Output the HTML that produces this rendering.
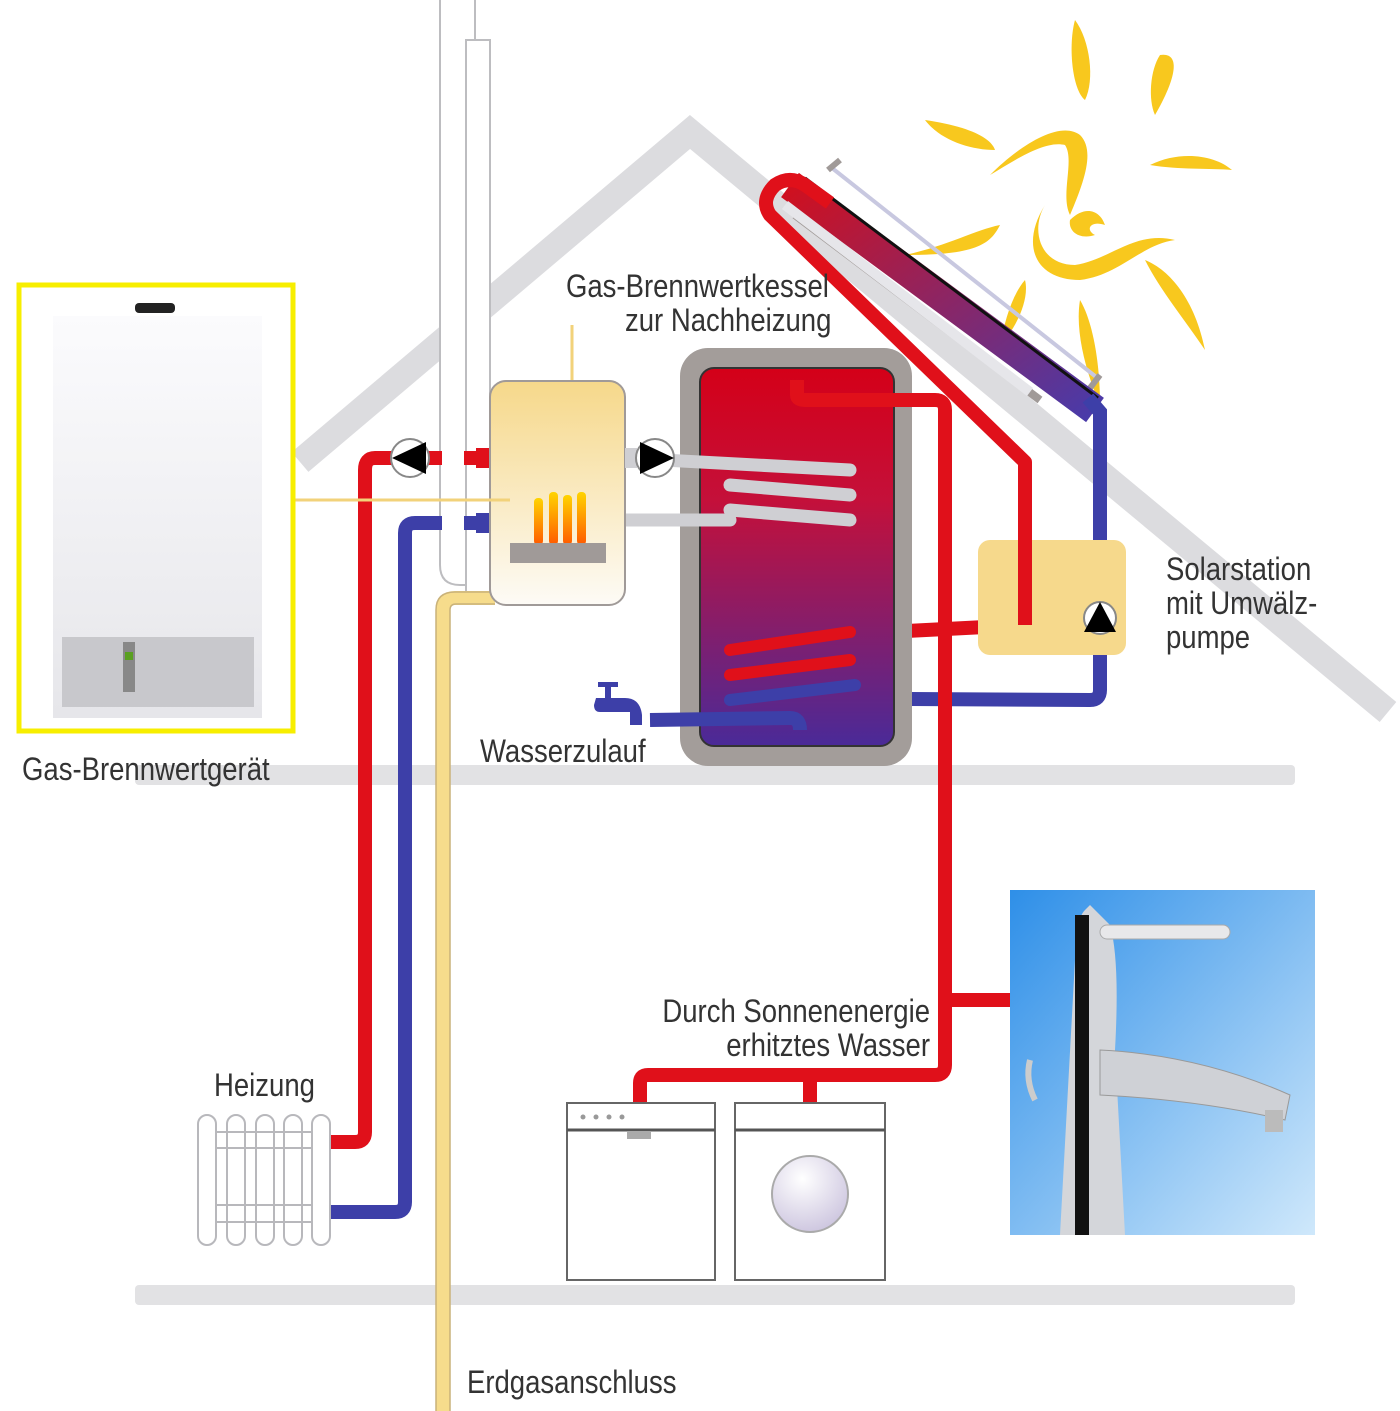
<!DOCTYPE html>
<html><head><meta charset="utf-8"><style>
html,body{margin:0;padding:0;background:#fff;}
svg{display:block;}
text{font-family:"Liberation Sans",sans-serif;fill:#333;}
</style></head><body>
<svg width="1400" height="1411" viewBox="0 0 1400 1411" xmlns="http://www.w3.org/2000/svg">
<defs>
<linearGradient id="tank" x1="0" y1="0" x2="0" y2="1">
<stop offset="0" stop-color="#d40018"/><stop offset="0.35" stop-color="#c4103a"/><stop offset="1" stop-color="#4a2a98"/></linearGradient>
<linearGradient id="boil" x1="0" y1="0" x2="0" y2="1">
<stop offset="0" stop-color="#f6d88a"/><stop offset="1" stop-color="#fdfbf6"/></linearGradient>
<linearGradient id="flame" x1="0" y1="0" x2="0" y2="1">
<stop offset="0" stop-color="#ffd400"/><stop offset="1" stop-color="#ff5a00"/></linearGradient>
<linearGradient id="sky" x1="0" y1="0" x2="1" y2="1">
<stop offset="0" stop-color="#2e8fe8"/><stop offset="1" stop-color="#cfe8fb"/></linearGradient>
<linearGradient id="col" x1="0" y1="0" x2="1" y2="1">
<stop offset="0" stop-color="#d0101e"/><stop offset="1" stop-color="#4a3aa8"/></linearGradient>
<linearGradient id="dev" x1="0" y1="0" x2="0" y2="1">
<stop offset="0" stop-color="#fbfbfd"/><stop offset="1" stop-color="#e6e6ea"/></linearGradient>
<radialGradient id="door" cx="0.4" cy="0.3" r="0.8">
<stop offset="0" stop-color="#ffffff"/><stop offset="1" stop-color="#c8c0dc"/></radialGradient>
</defs>

<polyline points="300,462 690,132 1388,712" fill="none" stroke="#dcdcdf" stroke-width="26"/>
<rect x="135" y="765" width="1160" height="20" fill="#e2e2e4" rx="4"/>
<rect x="135" y="1285" width="1160" height="20" fill="#e2e2e4" rx="4"/>

<g fill="#f8c81e">
<path d="M1075 20 C1090 40 1095 80 1085 100 C1072 90 1068 45 1075 20Z"/>
<path d="M1160 55 C1180 52 1178 75 1155 115 C1148 100 1150 70 1160 55Z"/>
<path d="M1150 165 C1180 150 1215 155 1232 170 C1210 168 1180 170 1150 165Z"/>
<path d="M925 120 C960 125 990 135 995 150 C970 150 940 140 925 120Z"/>
<path d="M1000 225 C990 245 975 255 905 255 C950 245 975 230 1000 225Z"/>
<path d="M1145 260 C1170 270 1195 300 1205 350 C1185 320 1160 290 1145 260Z"/>
<path d="M1080 300 C1092 320 1100 360 1100 405 C1085 370 1075 330 1080 300Z"/>
<path d="M1025 280 C1030 300 1015 330 1000 345 C1005 320 1012 295 1025 280Z"/>
<path d="M990 175 C1020 145 1060 120 1080 135 C1095 150 1085 180 1070 215 C1060 195 1075 160 1065 145 C1045 140 1015 160 990 175Z"/>
<path d="M1045 205 C1030 230 1040 265 1075 265 C1110 260 1135 230 1175 240 C1140 245 1120 275 1080 280 C1035 280 1020 245 1045 205Z"/>
<path d="M1070 220 C1085 205 1100 210 1105 225 C1090 220 1085 230 1095 235 C1080 240 1068 232 1070 220Z"/>
</g>

<path d="M440 0 V565 Q440 585 460 585 H490 V40 H475 V0" fill="#fff" stroke="#bdbdc0" stroke-width="2"/>
<rect x="466" y="40" width="24" height="560" fill="#fff" stroke="#bdbdc0" stroke-width="2"/>

<path d="M832 168 L1100 380" stroke="#c8c8e0" stroke-width="4" fill="none"/>
<path d="M828 170 L840 160 M1090 388 L1100 375" stroke="#a09a98" stroke-width="6"/>
<path d="M790 185 L1095 410" stroke="url(#col)" stroke-width="30" fill="none"/>
<path d="M805 178 L1098 398" stroke="#111" stroke-width="3" fill="none"/>
<path d="M795 215 L1040 400" stroke="#a09a98" stroke-width="8" fill="none"/>
<path d="M785 205 L1030 392" stroke="#e6e6ea" stroke-width="10" fill="none"/>

<path d="M730 640 L1025 625 V462 L770 215 Q760 200 775 185 Q790 175 805 185 L830 203" fill="none" stroke="#e0101a" stroke-width="14" stroke-linejoin="round"/>
<path d="M1088 398 L1100 412 V690 Q1100 700 1090 700 L720 698" fill="none" stroke="#3d3fa8" stroke-width="14"/>

<rect x="978" y="540" width="148" height="115" rx="12" fill="#f6d98c"/>
<path d="M1025 540 V625" stroke="#e0101a" stroke-width="14"/>
<circle cx="1100" cy="618" r="16" fill="#fff" stroke="#888" stroke-width="2"/>
<polygon points="1084,632 1100,602 1116,632" fill="#000"/>

<rect x="680" y="348" width="232" height="418" rx="28" fill="#a39d9a"/>
<rect x="700" y="368" width="194" height="378" rx="14" fill="url(#tank)" stroke="#333" stroke-width="2"/>
<path d="M797 380 V395 Q797 400 805 400 H935 Q945 400 945 410 V1065 Q945 1075 935 1075 H648 Q640 1075 640 1083 V1105" fill="none" stroke="#e0101a" stroke-width="14"/>
<path d="M810 1075 V1105" stroke="#e0101a" stroke-width="14"/>
<path d="M945 1000 H1012" stroke="#e0101a" stroke-width="14"/>
<path d="M730 650 L850 632 M730 675 L850 660" stroke="#e0101a" stroke-width="12" stroke-linecap="round"/>
<path d="M730 700 L855 685" stroke="#3d3fa8" stroke-width="12" stroke-linecap="round"/>
<path d="M650 720 L790 718 Q800 718 800 730" fill="none" stroke="#3d3fa8" stroke-width="14"/>
<g stroke="#cfcfd3" stroke-width="13" stroke-linecap="round" fill="none">
<path d="M625 458 L850 470"/><path d="M730 485 L850 495"/><path d="M730 510 L850 520"/>
<path d="M625 520 L730 520"/>
</g>

<g fill="#3d3fa8">
<rect x="598" y="682" width="20" height="5"/><rect x="605" y="684" width="6" height="14"/>
<path d="M596 698 H625 Q640 698 642 715 V725 H630 V712 H600 Q594 712 594 705Z"/>
</g>

<path d="M490 458 H375 Q365 458 365 470 V1132 Q365 1142 355 1142 H330" fill="none" stroke="#e0101a" stroke-width="14"/>
<path d="M490 523 H415 Q405 523 405 533 V1202 Q405 1212 395 1212 H330" fill="none" stroke="#3d3fa8" stroke-width="14"/>
<rect x="442" y="440" width="22" height="100" fill="#fff"/>
<rect x="476" y="448" width="14" height="20" fill="#e0101a"/>
<rect x="476" y="513" width="14" height="20" fill="#3d3fa8"/>
<path d="M443 1411 V610 Q443 598 455 598 H495" fill="none" stroke="#f6dc8c" stroke-width="14"/>
<path d="M436 1411 V610 Q436 592 455 592 H495 M450 1411 V610 Q450 604 456 604 H495" fill="none" stroke="#c9b27a" stroke-width="1.5"/>

<line x1="572" y1="325" x2="572" y2="382" stroke="#f2d27a" stroke-width="3"/>
<rect x="490" y="381" width="135" height="224" rx="16" fill="url(#boil)" stroke="#a09a98" stroke-width="2"/>
<line x1="295" y1="500" x2="510" y2="500" stroke="#f2d27a" stroke-width="3"/>
<g fill="url(#flame)">
<rect x="534" y="498" width="9" height="47" rx="4"/><rect x="549" y="492" width="9" height="53" rx="4"/>
<rect x="563" y="495" width="9" height="50" rx="4"/><rect x="577" y="492" width="9" height="53" rx="4"/>
</g>
<rect x="510" y="543" width="96" height="20" fill="#a09a98"/>

<circle cx="410" cy="458" r="19" fill="#fff" stroke="#888" stroke-width="2"/>
<polygon points="392,458 426,442 426,474" fill="#000"/>
<rect x="625" y="448" width="12" height="20" fill="#cfcfd3"/>
<circle cx="655" cy="458" r="19" fill="#fff" stroke="#888" stroke-width="2"/>
<polygon points="674,458 640,442 640,474" fill="#000"/>

<rect x="19" y="285" width="274" height="446" fill="#fff" stroke="#f7ee00" stroke-width="5"/>
<rect x="53" y="316" width="209" height="402" fill="url(#dev)"/>
<rect x="135" y="303" width="40" height="10" rx="4" fill="#222"/>
<rect x="62" y="637" width="192" height="70" fill="#c8c8cc"/>
<rect x="123" y="642" width="12" height="50" fill="#888"/>
<rect x="125" y="652" width="8" height="8" fill="#5aa020"/>

<g fill="#fff" stroke="#b8b8bc" stroke-width="2">
<rect x="198" y="1115" width="18" height="130" rx="9"/><rect x="227" y="1115" width="18" height="130" rx="9"/>
<rect x="256" y="1115" width="18" height="130" rx="9"/><rect x="284" y="1115" width="18" height="130" rx="9"/>
<rect x="312" y="1115" width="18" height="130" rx="9"/>
</g>
<g stroke="#b8b8bc" stroke-width="2">
<line x1="216" y1="1132" x2="312" y2="1132"/><line x1="216" y1="1148" x2="312" y2="1148"/>
<line x1="216" y1="1205" x2="312" y2="1205"/><line x1="216" y1="1222" x2="312" y2="1222"/>
</g>

<rect x="567" y="1103" width="148" height="177" fill="#fff" stroke="#666" stroke-width="2"/>
<line x1="567" y1="1130" x2="715" y2="1130" stroke="#555" stroke-width="3"/>
<g fill="#999"><circle cx="583" cy="1117" r="2.5"/><circle cx="596" cy="1117" r="2.5"/><circle cx="609" cy="1117" r="2.5"/><circle cx="622" cy="1117" r="2.5"/>
<circle cx="751" cy="1117" r="2.5"/><circle cx="764" cy="1117" r="2.5"/><circle cx="846" cy="1117" r="2.5"/><circle cx="859" cy="1117" r="2.5"/></g>
<rect x="627" y="1131" width="24" height="8" fill="#aaa"/>
<rect x="735" y="1103" width="150" height="177" fill="#fff" stroke="#666" stroke-width="2"/>
<line x1="735" y1="1130" x2="885" y2="1130" stroke="#555" stroke-width="3"/>
<ellipse cx="810" cy="1194" rx="38" ry="38" fill="url(#door)" stroke="#aaa" stroke-width="2"/>

<rect x="1010" y="890" width="305" height="345" fill="url(#sky)"/>
<g>
<path d="M1060 1235 L1075 960 Q1075 920 1085 910 L1090 905 L1110 925 Q1120 960 1115 1050 L1125 1235Z" fill="#d4d6da"/>
<rect x="1075" y="915" width="14" height="320" fill="#111"/>
<rect x="1100" y="925" width="130" height="14" rx="7" fill="#e8e8ea" stroke="#aaa"/>
<path d="M1100 1050 Q1200 1055 1290 1095 L1285 1120 Q1200 1100 1100 1095Z" fill="#cfd1d6" stroke="#999"/>
<rect x="1265" y="1110" width="18" height="22" fill="#bbb"/>
<path d="M1030 1060 Q1025 1080 1035 1100" stroke="#ccc" stroke-width="6" fill="none"/>
</g>

<g font-size="32">
<text x="566" y="297" transform="translate(566,297) scale(0.86,1) translate(-566,-297)">Gas-Brennwertkessel</text>
<text x="625" y="331" transform="translate(625,331) scale(0.86,1) translate(-625,-331)">zur Nachheizung</text>
<text x="1166" y="580" transform="translate(1166,580) scale(0.86,1) translate(-1166,-580)">Solarstation</text>
<text x="1166" y="614" transform="translate(1166,614) scale(0.86,1) translate(-1166,-614)">mit Umwälz-</text>
<text x="1166" y="648" transform="translate(1166,648) scale(0.86,1) translate(-1166,-648)">pumpe</text>
<text x="480" y="762" transform="translate(480,762) scale(0.86,1) translate(-480,-762)">Wasserzulauf</text>
<text x="22" y="780" transform="translate(22,780) scale(0.86,1) translate(-22,-780)">Gas-Brennwertgerät</text>
<text x="930" y="1022" text-anchor="end" transform="translate(930,1022) scale(0.86,1) translate(-930,-1022)">Durch Sonnenenergie</text>
<text x="930" y="1056" text-anchor="end" transform="translate(930,1056) scale(0.86,1) translate(-930,-1056)">erhitztes Wasser</text>
<text x="214" y="1096" transform="translate(214,1096) scale(0.86,1) translate(-214,-1096)">Heizung</text>
<text x="467" y="1393" transform="translate(467,1393) scale(0.86,1) translate(-467,-1393)">Erdgasanschluss</text>
</g>
</svg>
</body></html>
